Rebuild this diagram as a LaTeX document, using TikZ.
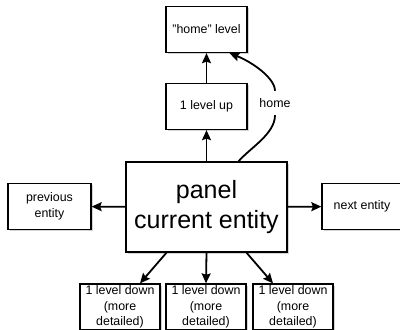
\documentclass[tikz,border=0pt]{standalone}
\usepackage{fontspec}
\setmainfont{Liberation Sans}
\usetikzlibrary{arrows.meta}
\usetikzlibrary{shadows}

\begin{document}
\begin{tikzpicture}[x=1pt, y=-1pt,
    box/.style={draw, line width=1.3pt, fill=white, align=center, inner sep=0pt,
      minimum width=81pt, minimum height=46pt,
      font=\fontsize{12.4}{15.5}\selectfont,
      drop shadow={shadow xshift=1.5pt, shadow yshift=-1.5pt, opacity=0.35}},
    lbl/.style={inner sep=0pt, minimum height=24pt, font=\fontsize{12.4}{15.5}\selectfont},
    arr/.style={line width=1.8pt, -{Stealth[length=10pt, width=9pt, inset=1.5pt]}}]
      \useasboundingbox (0,0) rectangle (400,330);

      \node[box] (home) at (206.5,29.5) {"home" level};
      \node[box] (up) at (206.5,106.5) {1 level up};
      \node[box, minimum width=161pt, minimum height=90pt, font=\fontsize{25}{30}\selectfont] (panel) at (206.5,207) {panel\\current entity};
      \node[box, minimum width=83pt] (prev) at (49.5,206.5) {previous\\entity};
      \node[box, minimum width=80pt] (next) at (362,206.5) {next entity};

      \node[box, minimum width=80pt] (down1) at (120,307) {1 level down\\(more\\detailed)};
      \node[box, minimum width=80pt] (down2) at (206,307) {1 level down\\(more\\detailed)};
      \node[box, minimum width=80pt] (down3) at (293,307) {1 level down\\(more\\detailed)};

      \node[lbl] (homelbl) at (275,103) {home};

      \draw[arr] (panel) -- (up);
      \draw[arr] (up) -- (home);
      \draw[arr] (panel) -- (prev);
      \draw[arr] (panel) -- (next);
      \draw[arr] ([xshift=-40pt]panel.south) -- ([xshift=20pt]down1.north);
      \draw[arr] (panel.south) -- (down2.north);
      \draw[arr] ([xshift=40pt]panel.south) -- ([xshift=-20pt]down3.north);

      \draw[line width=1.8pt] ([xshift=32pt]panel.north) .. controls (250,148) and (275,134) .. (homelbl.south);
      \draw[arr] (homelbl.north) .. controls (275,78) and (252,62) .. ([xshift=23pt]home.south);
    \end{tikzpicture}
\end{document}
